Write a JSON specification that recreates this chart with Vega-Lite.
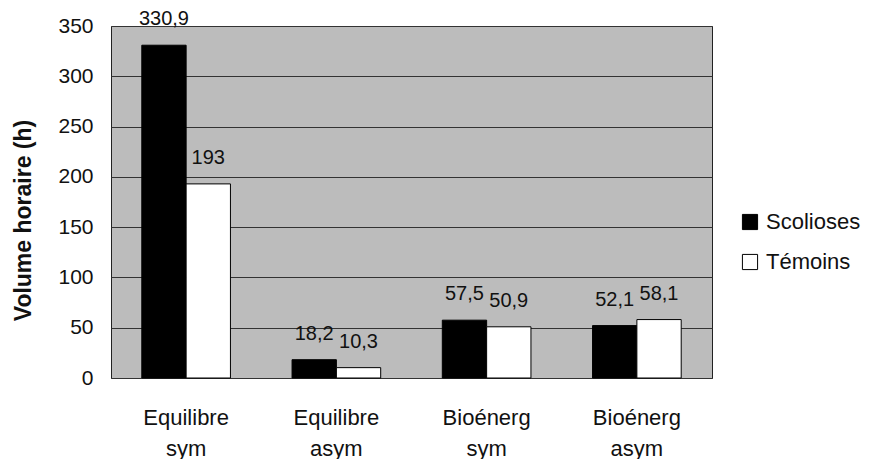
{
  "$schema": "https://vega.github.io/schema/vega-lite/v6.json",
  "width": 601,
  "height": 352,
  "autosize": "none",
  "padding": {"left": 111, "top": 26, "right": 165, "bottom": 81},
  "background": "white",
  "config": {
    "locale": {"number": {"decimal": ",", "thousands": " ", "grouping": [3], "currency": ["", " €"]}},
    "view": {"fill": "#bcbcbc", "stroke": "#222222", "strokeWidth": 1},
    "font": "Liberation Sans"
  },
  "data": {
    "values": [
      {"cat": "Equilibre sym", "grp": "Scolioses", "v": 330.9},
      {"cat": "Equilibre sym", "grp": "Témoins", "v": 193},
      {"cat": "Equilibre asym", "grp": "Scolioses", "v": 18.2},
      {"cat": "Equilibre asym", "grp": "Témoins", "v": 10.3},
      {"cat": "Bioénerg sym", "grp": "Scolioses", "v": 57.5},
      {"cat": "Bioénerg sym", "grp": "Témoins", "v": 50.9},
      {"cat": "Bioénerg asym", "grp": "Scolioses", "v": 52.1},
      {"cat": "Bioénerg asym", "grp": "Témoins", "v": 58.1}
    ]
  },
  "encoding": {
    "x": {
      "field": "cat", "type": "nominal", "sort": null,
      "scale": {"paddingInner": 0.41, "paddingOuter": 0.205},
      "axis": {
        "title": null, "labelAngle": 0, "labelExpr": "split(datum.label, ' ')",
        "labelFontSize": 22, "labelColor": "#111", "labelPadding": 29, "labelLineHeight": 31,
        "ticks": false, "domain": false, "labelFont": "Liberation Sans"
      }
    },
    "xOffset": {"field": "grp", "type": "nominal", "sort": ["Scolioses", "Témoins"]}
  },
  "layer": [
    {
      "mark": {"type": "bar", "stroke": "#000", "strokeWidth": 1},
      "encoding": {
        "y": {
          "field": "v", "type": "quantitative",
          "scale": {"domain": [0, 350], "nice": false},
          "axis": {
            "title": "Volume horaire (h)", "titleFontSize": 23, "titleFontWeight": "bold", "titleColor": "#111",
            "titleY": 194, "titleX": -88, "titleBaseline": "middle", "titleAlign": "center", "titleAngle": -90,
            "values": [0, 50, 100, 150, 200, 250, 300, 350],
            "labelFontSize": 21, "labelColor": "#111", "labelPadding": 18,
            "ticks": false, "domain": false,
            "grid": true, "gridColor": "#333333", "gridWidth": 1
          }
        },
        "fill": {
          "field": "grp", "type": "nominal", "sort": ["Scolioses", "Témoins"],
          "scale": {"domain": ["Scolioses", "Témoins"], "range": ["#000000", "#ffffff"]},
          "legend": {
            "title": null, "orient": "none", "legendX": 628, "legendY": 185,
            "symbolType": "square", "symbolSize": 230, "symbolStrokeColor": "#000", "symbolStrokeWidth": 1,
            "labelFontSize": 22, "labelColor": "#111", "rowPadding": 18, "labelOffset": 5
          }
        }
      }
    },
    {
      "mark": {"type": "text", "dy": -26, "fontSize": 20, "font": "Liberation Sans", "color": "#111"},
      "encoding": {
        "y": {"field": "v", "type": "quantitative"},
        "text": {"field": "v", "type": "quantitative", "format": ".1~f"}
      }
    }
  ]
}
